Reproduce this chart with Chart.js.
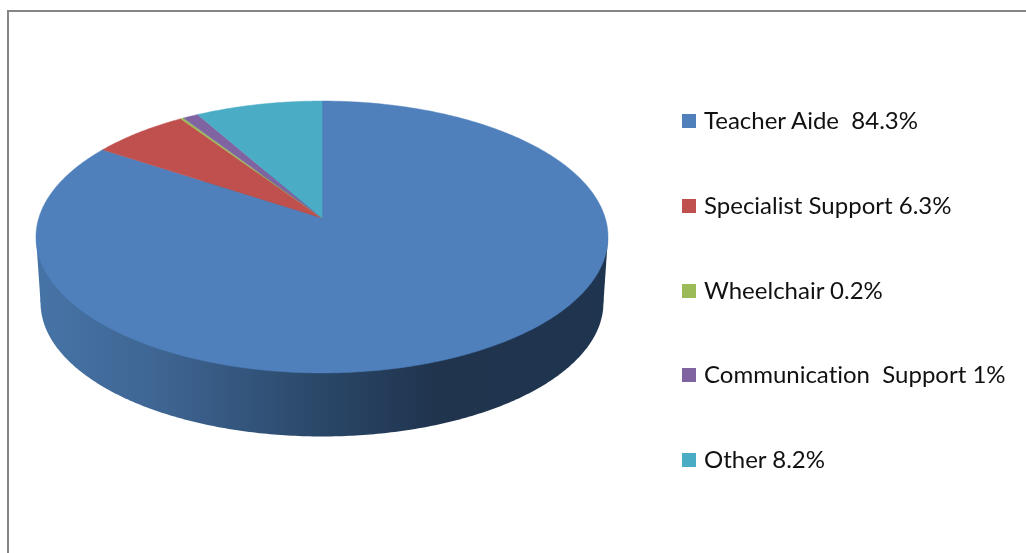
<!DOCTYPE html>
<html>
<head>
<meta charset="utf-8">
<script src="https://cdn.jsdelivr.net/npm/chart.js@4"></script>
<style>
    html, body { margin: 0; padding: 0; background: #fff; }
    #wrap { position: relative; width: 1026px; height: 553px; overflow: hidden; }
    #frame { position: absolute; left: 7px; top: 10px; width: 1030px; height: 560px; border: 2px solid #868686; box-sizing: border-box; }
    #pieChart { position: absolute; left: 0; top: 0; }
    #legend { position: absolute; left: 682px; top: 102px; margin: 0; padding: 0; list-style: none;
        font: 24px Lato, sans-serif; font-variant-ligatures: none; color: #111; }
    #legend li { position: relative; height: 84.75px; line-height: 36px; padding-left: 22px; white-space: pre; }
    #legend i { position: absolute; left: 0; top: 12px; width: 14px; height: 14px; }
</style>
</head>
<body>
<div id="wrap">
    <div id="frame"></div>
    <canvas id="pieChart" width="1026" height="553"></canvas>
    <ul id="legend"></ul>
</div>
<script>
const categories = ['Teacher Aide  84.3%', 'Specialist Support 6.3%', 'Wheelchair 0.2%', 'Communication  Support 1%', 'Other 8.2%'];
const shares = [84.3, 6.3, 0.2, 1, 8.2];
const sliceColors = ['#4f80bc', '#c0504d', '#9bbb59', '#8064a2', '#4bacc6'];

// Excel 3D pie look: the flat disc is tilted with a bit of perspective
const tilt = { sx: 1.416, sy: 0.6665, p: 0.1397 };
const side = { drop: 85, shrink: 0.984 };

function project(arc, a, k, dy) {
    const u = Math.cos(a), v = Math.sin(a);
    const d = 1 - tilt.p * v;
    return {
        x: arc.x + k * tilt.sx * arc.outerRadius * u / d,
        y: arc.y + dy + k * tilt.sy * arc.outerRadius * v / d
    };
}

function discPath(ctx, arc, start, end, k, dy, fromCentre) {
    ctx.beginPath();
    if (fromCentre) ctx.moveTo(arc.x, arc.y + dy);
    const steps = Math.max(2, Math.ceil((end - start) * 90));
    for (let i = 0; i <= steps; i++) {
        const pt = project(arc, start + (end - start) * i / steps, k, dy);
        ctx.lineTo(pt.x, pt.y);
    }
    ctx.closePath();
}

const pie3d = {
    id: 'pie3d',
    beforeDatasetsDraw(chart) {
        const ctx = chart.ctx;
        const arcs = chart.getDatasetMeta(0).data;
        const first = arcs[0];

        // side wall, the whole hull between the top and the lower disc
        const grad = ctx.createLinearGradient(40, 0, 603, 0);
        grad.addColorStop(0, '#4673a6');
        grad.addColorStop(0.2, '#3f6694');
        grad.addColorStop(0.5, '#2a4768');
        grad.addColorStop(0.7, '#20344e');
        grad.addColorStop(1, '#1f344e');
        ctx.save();
        ctx.fillStyle = grad;
        discPath(ctx, first, 0, Math.PI * 2, side.shrink, side.drop - 19, false);
        ctx.fill();
        ctx.beginPath();
        const l1 = project(first, Math.PI - tilt.p, 1, 0), r1 = project(first, tilt.p, 1, 0);
        const l2 = project(first, Math.PI - tilt.p, side.shrink, side.drop - 19), r2 = project(first, tilt.p, side.shrink, side.drop - 19);
        ctx.moveTo(l1.x, l1.y);
        ctx.lineTo(r1.x, r1.y);
        ctx.lineTo(r2.x, r2.y);
        ctx.lineTo(l2.x, l2.y);
        ctx.closePath();
        ctx.fill();

        // top face, angles come from the chart's arc elements
        arcs.forEach((arc, i) => {
            ctx.fillStyle = sliceColors[i];
            ctx.strokeStyle = sliceColors[i];
            ctx.lineWidth = 0.5;
            discPath(ctx, arc, arc.startAngle, arc.endAngle, 1, 0, true);
            ctx.fill();
            ctx.stroke();
        });
        ctx.restore();
        return false;
    }
};

new Chart(document.getElementById('pieChart').getContext('2d'), {
    type: 'pie',
    data: {
        labels: categories,
        datasets: [{
            data: shares,
            backgroundColor: sliceColors,
            borderWidth: 0
        }]
    },
    options: {
        responsive: false,
        animation: false,
        layout: { padding: { left: 122, right: 504, top: 18, bottom: 135 } },
        plugins: {
            legend: { display: false },
            tooltip: { enabled: false }
        }
    },
    plugins: [pie3d]
});

const legend = document.getElementById('legend');
categories.forEach((name, i) => {
    const li = document.createElement('li');
    const box = document.createElement('i');
    box.style.background = sliceColors[i];
    li.appendChild(box);
    li.appendChild(document.createTextNode(name));
    legend.appendChild(li);
});
</script>
</body>
</html>
